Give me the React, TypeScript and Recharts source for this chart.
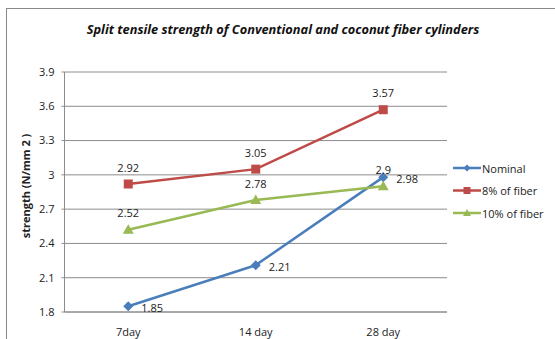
import React from 'react';
import {
  LineChart,
  Line,
  XAxis,
  YAxis,
  CartesianGrid,
  LabelList,
} from 'recharts';

const categories = ['7day', '14 day', '28 day'];
const nominal = [1.85, 2.21, 2.98];
const fiber8 = [2.92, 3.05, 3.57];
const fiber10 = [2.52, 2.78, 2.9];
const yTicks = [1.8, 2.1, 2.4, 2.7, 3, 3.3, 3.6, 3.9];

const data = categories.map((name, i) => ({
  name,
  nominal: nominal[i],
  fiber8: fiber8[i],
  fiber10: fiber10[i],
}));

const BLUE = '#4A7EBB';
const RED = '#BE4B48';
const GREEN = '#98B954';
const FONT = '"Open Sans", "DejaVu Sans", sans-serif';

const Diamond = (props: any) => {
  const { cx, cy } = props;
  if (cx == null || cy == null) return null;
  return (
    <path
      d={`M${cx},${cy - 5} L${cx + 5},${cy} L${cx},${cy + 5} L${cx - 5},${cy} Z`}
      fill={BLUE}
    />
  );
};

const Square = (props: any) => {
  const { cx, cy } = props;
  if (cx == null || cy == null) return null;
  return <rect x={cx - 4.5} y={cy - 4.5} width={9} height={9} fill={RED} />;
};

const Triangle = (props: any) => {
  const { cx, cy } = props;
  if (cx == null || cy == null) return null;
  return (
    <path
      d={`M${cx},${cy - 5.5} L${cx + 5.5},${cy + 4} L${cx - 5.5},${cy + 4} Z`}
      fill={GREEN}
    />
  );
};

const aboveLabel = (props: any) => {
  const { x, y, value } = props;
  return (
    <text x={x} y={y - 17} textAnchor="middle" dominantBaseline="central" fontSize={11} fill="#222" fontFamily={FONT}>
      {value}
    </text>
  );
};

const rightLabel = (props: any) => {
  const { x, y, value } = props;
  return (
    <text x={x + 13} y={y + 1} textAnchor="start" dominantBaseline="central" fontSize={11} fill="#222" fontFamily={FONT}>
      {value}
    </text>
  );
};

const legendItems = [
  { label: 'Nominal', color: BLUE, shape: 'diamond' },
  { label: '8% of fiber', color: RED, shape: 'square' },
  { label: '10% of fiber', color: GREEN, shape: 'triangle' },
];

const LegendBox = () => (
  <svg width={100} height={70} style={{ position: 'absolute', left: 453, top: 160 }}>
    {legendItems.map((it, i) => {
      const y = 8 + i * 22.5;
      return (
        <g key={it.label}>
          <line x1={0} x2={28} y1={y} y2={y} stroke={it.color} strokeWidth={2.5} />
          {it.shape === 'diamond' && (
            <path d={`M14,${y - 3.5} L17.5,${y} L14,${y + 3.5} L10.5,${y} Z`} fill={it.color} />
          )}
          {it.shape === 'square' && <rect x={10.5} y={y - 3.5} width={7} height={7} fill={it.color} />}
          {it.shape === 'triangle' && (
            <path d={`M14,${y - 4} L18,${y + 3} L10,${y + 3} Z`} fill={it.color} />
          )}
          <text x={29} y={y} dominantBaseline="central" fontSize={11} fill="#222" fontFamily={FONT}>
            {it.label}
          </text>
        </g>
      );
    })}
  </svg>
);

export default function App() {
  return (
    <div style={{ position: 'absolute', left: 0, top: 0, width: 555, height: 339, background: '#fff' }}>
      <div
        style={{
          position: 'absolute',
          left: 6,
          top: 8,
          right: 0,
          bottom: 0,
          borderTop: '1.5px solid #8a8a8a',
          borderLeft: '1.5px solid #8a8a8a',
        }}
      />
      <div
        style={{
          position: 'absolute',
          left: 0,
          width: 566,
          top: 20,
          textAlign: 'center',
          fontFamily: FONT,
          fontSize: 12.8,
          fontWeight: 'bold',
          fontStyle: 'italic',
          color: '#111',
        }}
      >
        Split tensile strength of Conventional and coconut fiber cylinders
      </div>
      <LineChart
        width={555}
        height={339}
        data={data}
        margin={{ top: 72, right: 108, bottom: 0, left: 0 }}
        style={{ position: 'absolute', left: 0, top: 0 }}
      >
        <CartesianGrid vertical={false} stroke="#8c8c8c" strokeWidth={1} />
        <XAxis
          dataKey="name"
          height={27}
          padding={{ left: 63.75, right: 63.75 }}
          axisLine={{ stroke: '#8c8c8c' }}
          tickLine={false}
          tickMargin={10}
          tick={{ fontSize: 11, fill: '#222', fontFamily: FONT }}
        />
        <YAxis
          width={64.5}
          domain={[1.8, 3.9]}
          ticks={yTicks}
          interval={0}
          axisLine={{ stroke: '#8c8c8c' }}
          tickLine={{ stroke: '#8c8c8c' }}
          tickSize={3}
          tickMargin={7}
          tick={{ fontSize: 11, fill: '#222', fontFamily: FONT }}
          label={{
            value: 'strength (N/mm 2 )',
            angle: -90,
            position: 'insideLeft',
            dx: 21,
            dy: -6,
            style: { fontSize: 11, fontWeight: 'bold', fill: '#222', fontFamily: FONT, textAnchor: 'middle' },
          }}
        />
        <Line
          dataKey="nominal"
          name="Nominal"
          stroke={BLUE}
          strokeWidth={2.5}
          dot={<Diamond />}
          activeDot={false}
          isAnimationActive={false}
        >
          <LabelList dataKey="nominal" content={rightLabel} />
        </Line>
        <Line
          dataKey="fiber8"
          name="8% of fiber"
          stroke={RED}
          strokeWidth={2.5}
          dot={<Square />}
          activeDot={false}
          isAnimationActive={false}
        >
          <LabelList dataKey="fiber8" content={aboveLabel} />
        </Line>
        <Line
          dataKey="fiber10"
          name="10% of fiber"
          stroke={GREEN}
          strokeWidth={2.5}
          dot={<Triangle />}
          activeDot={false}
          isAnimationActive={false}
        >
          <LabelList dataKey="fiber10" content={aboveLabel} />
        </Line>
      </LineChart>
      <LegendBox />
    </div>
  );
}
